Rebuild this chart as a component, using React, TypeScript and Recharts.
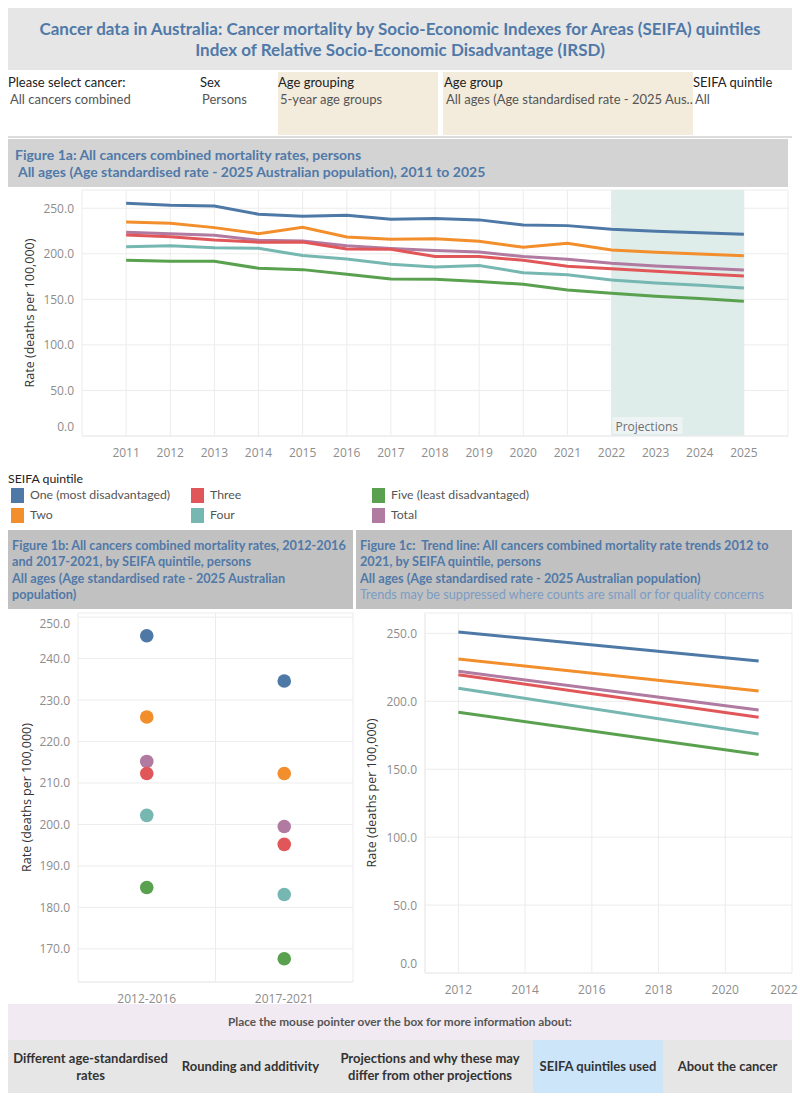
import React from 'react';
import {
  LineChart,
  Line,
  XAxis,
  YAxis,
  CartesianGrid,
  ReferenceArea,
  ReferenceLine,
  ScatterChart,
  Scatter,
} from 'recharts';

// ---- Figure 1a: annual rates 2011–2025 (2022 onwards are projections) ----
const years = [2011, 2012, 2013, 2014, 2015, 2016, 2017, 2018, 2019, 2020, 2021, 2022, 2023, 2024, 2025];
const rateOne = [255.5, 253.3, 252.5, 243.4, 241.2, 242.3, 237.9, 238.6, 237.2, 231.7, 230.9, 226.9, 224.8, 223.2, 221.5];
const rateTwo = [235.0, 233.5, 228.7, 222.1, 229.1, 218.5, 216.0, 216.6, 213.8, 207.2, 211.6, 204.2, 201.7, 199.8, 197.9];
const rateThree = [220.7, 218.8, 215.2, 212.7, 213.0, 205.3, 205.0, 196.9, 196.9, 192.9, 186.3, 183.7, 180.8, 178.2, 175.7];
const rateFour = [207.8, 208.9, 206.7, 206.1, 198.0, 194.3, 188.5, 185.6, 187.0, 179.3, 177.1, 171.3, 168.0, 165.5, 162.5];
const rateFive = [192.9, 191.8, 191.8, 184.1, 182.6, 177.6, 172.4, 172.1, 169.5, 166.6, 160.3, 156.7, 153.4, 150.8, 147.9];
const rateTotal = [223.7, 222.1, 220.4, 214.9, 214.1, 208.9, 205.7, 203.5, 202.0, 196.9, 194.0, 189.6, 186.7, 184.5, 182.3];
const projectionStart = 2022;
const projectionEnd = 2025;

// ---- Figure 1b: five-year period rates ----
const periods = ['2012-2016', '2017-2021'];
const periodOne = [245.5, 234.6];
const periodTwo = [225.9, 212.3];
const periodThree = [212.3, 195.2];
const periodFour = [202.2, 183.1];
const periodFive = [184.8, 167.6];
const periodTotal = [215.2, 199.5];

// ---- Figure 1c: fitted trend lines, start and end years ----
const trendYears = [2012, 2021];
const trendOne = [251.0, 229.7];
const trendTwo = [231.1, 207.6];
const trendThree = [219.6, 188.2];
const trendFour = [209.6, 176.0];
const trendFive = [191.9, 160.8];
const trendTotal = [222.1, 193.6];

// ---- Series / legend ----
const seriesNames = ['One (most disadvantaged)', 'Two', 'Three', 'Four', 'Five (least disadvantaged)', 'Total'];
const seriesKeys = ['one', 'two', 'three', 'four', 'five', 'total'];
const seriesColors = ['#4e79a7', '#f28e2b', '#e15759', '#76b7b2', '#59a14f', '#b07aa1'];
// Total is painted first so the quintile lines sit over it
const drawOrder = [5, 0, 1, 2, 3, 4];

const yTicks1a = [0, 50, 100, 150, 200, 250];
const yTicks1b = [170, 180, 190, 200, 210, 220, 230, 240, 250];
const xTicks1c = [2012, 2014, 2016, 2018, 2020, 2022];

const annual = [rateOne, rateTwo, rateThree, rateFour, rateFive, rateTotal];
const periodVals = [periodOne, periodTwo, periodThree, periodFour, periodFive, periodTotal];
const trendVals = [trendOne, trendTwo, trendThree, trendFour, trendFive, trendTotal];

const data1a = years.map((year, i) => {
  const row: Record<string, number> = { year };
  seriesKeys.forEach((k, s) => {
    row[k] = annual[s][i];
  });
  return row;
});

const NARROW = 'Lato, "Open Sans", sans-serif';
const TICKFONT = '"Open Sans", "Noto Sans", sans-serif';
const BLUE = '#5079a8';
const GRID = '#ececec';
const TICK_FILL = '#8d8d8d';

const fmt1 = (v: number) => v.toFixed(1);

// Y tick that nudges labels at the very top/bottom of the plot inward
// (top and bottom are in the chart's own SVG coordinates)
const yTick = (top: number, bottom: number) => (p: any) => {
  let y = p.y;
  if (y > bottom - 4) y -= 10;
  else if (y < top + 8) y += 5;
  return (
    <text x={p.x} y={y} textAnchor="end" dominantBaseline="central" fill={TICK_FILL} fontSize={12} fontFamily={TICKFONT}>
      {fmt1(p.payload.value)}
    </text>
  );
};

// X tick that keeps the last label inside the plot's right edge
const xTick = (labels: (v: number) => string, right: number) => (p: any) => {
  const text = labels(p.payload.value);
  const nearEdge = p.x > right - 4;
  return (
    <text
      x={nearEdge ? p.x - 2 : p.x}
      y={p.y + 8}
      textAnchor={nearEdge ? 'end' : 'middle'}
      dominantBaseline="central"
      fill={TICK_FILL}
      fontSize={12}
      fontFamily={TICKFONT}
    >
      {text}
    </text>
  );
};

const axisTitle = (x: number) => (props: any) => {
  const vb = props.viewBox || {};
  const cy = (vb.y || 0) + (vb.height || 0) / 2;
  return (
    <text
      transform={`translate(${x},${cy}) rotate(-90)`}
      textAnchor="middle"
      dominantBaseline="central"
      fill="#333"
      fontSize={12.5}
      fontFamily={TICKFONT}
    >
      Rate (deaths per 100,000)
    </text>
  );
};

const ProjectionsLabel = (props: any) => {
  const vb = props.viewBox || {};
  const x = vb.x || 0;
  const bottom = (vb.y || 0) + (vb.height || 0);
  return (
    <g>
      <rect x={x + 1} y={bottom - 19} width={70} height={17} fill="#eef4f3" />
      <text x={x + 4} y={bottom - 10} dominantBaseline="central" fill="#6e6e6e" fontSize={12} fontFamily={TICKFONT}>
        Projections
      </text>
    </g>
  );
};

const box = (style: React.CSSProperties): React.CSSProperties => ({ position: 'absolute', boxSizing: 'border-box', ...style });

const legendCols = [11, 191, 372];
const legendRows = [488, 508];

export default function App() {
  return (
    <div style={{ position: 'absolute', left: 0, top: 0, width: 800, height: 1100, background: '#fff', fontFamily: NARROW }}>
      {/* Title */}
      <div
        style={box({
          left: 8, top: 8, width: 784, height: 62, background: '#e6e6e6', color: BLUE,
          fontWeight: 700, fontSize: 17, textAlign: 'center', paddingTop: 10, lineHeight: '21px', whiteSpace: 'nowrap',
        })}
      >
        Cancer data in Australia: Cancer mortality by Socio-Economic Indexes for Areas (SEIFA) quintiles
        <br />
        Index of Relative Socio-Economic Disadvantage (IRSD)
      </div>

      {/* Filter row */}
      <div style={box({ left: 278, top: 72, width: 160, height: 63, background: '#f3ecdc' })} />
      <div style={box({ left: 443, top: 72, width: 250, height: 63, background: '#f3ecdc' })} />
      {[
        { x: 8, t: 'Please select cancer:', v: 'All cancers combined' },
        { x: 200, t: 'Sex', v: 'Persons' },
        { x: 278, t: 'Age grouping', v: '5-year age groups' },
        { x: 444, t: 'Age group', v: 'All ages (Age standardised rate - 2025 Aus..' },
        { x: 693, t: 'SEIFA quintile', v: 'All' },
      ].map((f) => (
        <React.Fragment key={f.t}>
          <div style={box({ left: f.x, top: 74, fontSize: 13, color: '#222', whiteSpace: 'nowrap' })}>{f.t}</div>
          <div style={box({ left: f.x + 2, top: 91, fontSize: 13, color: '#555', whiteSpace: 'nowrap' })}>{f.v}</div>
        </React.Fragment>
      ))}
      <div style={box({ left: 8, top: 136, width: 784, height: 2, background: '#dcdcdc' })} />

      {/* Figure 1a header */}
      <div
        style={box({
          left: 8, top: 139, width: 780, height: 48, background: '#d3d3d3', color: BLUE,
          fontWeight: 700, fontSize: 14, paddingLeft: 7, paddingTop: 7, lineHeight: '17px', whiteSpace: 'pre',
        })}
      >
        {'Figure 1a: All cancers combined mortality rates, persons\n All ages (Age standardised rate - 2025 Australian population), 2011 to 2025'}
      </div>

      {/* Figure 1a chart */}
      <div style={box({ left: 0, top: 186 })}>
        <LineChart width={800} height={280} data={data1a} margin={{ top: 4, right: 12, bottom: 0, left: 8 }}>
          <ReferenceArea x1={projectionStart} x2={projectionEnd} fill="#deecea" fillOpacity={1} stroke="none" label={<ProjectionsLabel />} />
          <CartesianGrid stroke={GRID} strokeWidth={1} />
          <XAxis
            dataKey="year"
            type="number"
            domain={[2010, 2026]}
            ticks={[2010, ...years, 2026]}
            interval={0}
            tick={xTick((v) => (years.includes(v) ? String(v) : ''), 9999)}
            tickLine={false}
            axisLine={{ stroke: GRID }}
            height={30}
          />
          <YAxis
            type="number"
            domain={[0, 270]}
            ticks={yTicks1a}
            tick={yTick(4, 250)}
            tickLine={false}
            axisLine={false}
            width={74}
            label={axisTitle(29)}
          />
          {drawOrder.map((s) => (
            <Line
              key={seriesKeys[s]}
              dataKey={seriesKeys[s]}
              name={seriesNames[s]}
              stroke={seriesColors[s]}
              strokeWidth={3}
              dot={false}
              isAnimationActive={false}
            />
          ))}
        </LineChart>
      </div>

      {/* Legend */}
      <div style={box({ left: 8, top: 471, fontSize: 12.3, color: '#222' })}>SEIFA quintile</div>
      {seriesNames.map((n, i) => {
        const colX = legendCols[Math.floor(i / 2)];
        const rowY = legendRows[i % 2];
        return (
          <React.Fragment key={n}>
            <div style={box({ left: colX, top: rowY, width: 13, height: 15, background: seriesColors[i] })} />
            <div style={box({ left: colX + 19, top: rowY - 1, fontSize: 12.3, color: '#555', whiteSpace: 'nowrap' })}>{n}</div>
          </React.Fragment>
        );
      })}

      {/* Figure 1b header */}
      <div
        style={box({
          left: 8, top: 530, width: 345, height: 79, background: '#c1c1c1', color: BLUE,
          fontWeight: 700, fontSize: 12.7, padding: '7px 4px 0 4px', lineHeight: '16.3px', whiteSpace: 'pre',
        })}
      >
        {'Figure 1b: All cancers combined mortality rates, 2012-2016\nand 2017-2021, by SEIFA quintile, persons\nAll ages (Age standardised rate - 2025 Australian\npopulation)'}
      </div>

      {/* Figure 1c header */}
      <div
        style={box({
          left: 356, top: 530, width: 436, height: 79, background: '#c1c1c1', color: BLUE,
          fontWeight: 700, fontSize: 12.7, padding: '7px 4px 0 4px', lineHeight: '16.3px', whiteSpace: 'pre',
        })}
      >
        {'Figure 1c:  Trend line: All cancers combined mortality rate trends 2012 to\n2021, by SEIFA quintile, persons\nAll ages (Age standardised rate - 2025 Australian population)\n'}
        <span style={{ fontWeight: 400, color: '#7b9cc4' }}>Trends may be suppressed where counts are small or for quality concerns</span>
      </div>

      {/* Figure 1b chart */}
      <div style={box({ left: 0, top: 609 })}>
        <ScatterChart width={355} height={398} margin={{ top: 4, right: 2, bottom: 0, left: 8 }}>
          <CartesianGrid stroke={GRID} vertical={false} />
          <ReferenceLine x={-0.5} stroke={GRID} />
          <ReferenceLine x={0.5} stroke={GRID} />
          <ReferenceLine x={1.5} stroke={GRID} />
          <XAxis
            dataKey="x"
            type="number"
            domain={[-0.5, 1.5]}
            ticks={[0, 1]}
            tick={xTick((v) => periods[v] ?? '', 9999)}
            tickLine={false}
            axisLine={{ stroke: GRID }}
            height={25}
          />
          <YAxis
            dataKey="y"
            type="number"
            domain={[162, 251]}
            ticks={yTicks1b}
            tick={yTick(4, 373)}
            tickLine={false}
            axisLine={false}
            width={70}
            label={axisTitle(26)}
          />
          {drawOrder.map((s) => (
            <Scatter
              key={seriesKeys[s]}
              name={seriesNames[s]}
              data={periods.map((_, i) => ({ x: i, y: periodVals[s][i] }))}
              fill={seriesColors[s]}
              shape={(p: any) => <circle cx={p.cx} cy={p.cy} r={6.8} fill={seriesColors[s]} />}
              isAnimationActive={false}
            />
          ))}
        </ScatterChart>
      </div>

      {/* Figure 1c chart */}
      <div style={box({ left: 355, top: 609 })}>
        <LineChart width={445} height={389} margin={{ top: 4, right: 8, bottom: 0, left: 8 }}>
          <CartesianGrid stroke={GRID} />
          <XAxis
            dataKey="year"
            type="number"
            domain={[2011, 2022]}
            ticks={xTicks1c}
            allowDuplicatedCategory={false}
            tick={xTick((v) => String(v), 437)}
            tickLine={false}
            axisLine={{ stroke: GRID }}
            height={25}
          />
          <YAxis
            type="number"
            domain={[0, 265]}
            ticks={yTicks1a}
            tick={yTick(4, 364)}
            tickLine={false}
            axisLine={{ stroke: GRID }}
            width={62}
            label={axisTitle(16)}
          />
          {drawOrder.map((s) => (
            <Line
              key={seriesKeys[s]}
              data={trendYears.map((year, i) => ({ year, v: trendVals[s][i] }))}
              dataKey="v"
              name={seriesNames[s]}
              stroke={seriesColors[s]}
              strokeWidth={3}
              dot={false}
              isAnimationActive={false}
            />
          ))}
        </LineChart>
      </div>

      {/* Info strip */}
      <div
        style={box({
          left: 8, top: 1004, width: 784, height: 36, background: '#f1eaf2', color: '#555',
          fontSize: 11.8, textAlign: 'center', lineHeight: '36px', fontWeight: 700,
        })}
      >
        Place the mouse pointer over the box for more information about:
      </div>
      <div style={box({ left: 8, top: 1040, width: 784, height: 53, background: '#e6e6e6' })} />
      {[
        { x: 8, w: 165, t: 'Different age-standardised\nrates', bg: '' },
        { x: 173, w: 155, t: 'Rounding and additivity', bg: '' },
        { x: 328, w: 204, t: 'Projections and why these may\ndiffer from other projections', bg: '' },
        { x: 533, w: 130, t: 'SEIFA quintiles used', bg: '#cde5f8' },
        { x: 663, w: 129, t: 'About the cancer', bg: '' },
      ].map((b) => (
        <div
          key={b.t}
          style={box({
            left: b.x, top: 1040, width: b.w, height: 53, background: b.bg || 'transparent',
            display: 'flex', alignItems: 'center', justifyContent: 'center', textAlign: 'center',
            whiteSpace: 'pre', fontSize: 13, fontWeight: 700, color: '#333', lineHeight: '17px',
          })}
        >
          {b.t}
        </div>
      ))}
    </div>
  );
}
